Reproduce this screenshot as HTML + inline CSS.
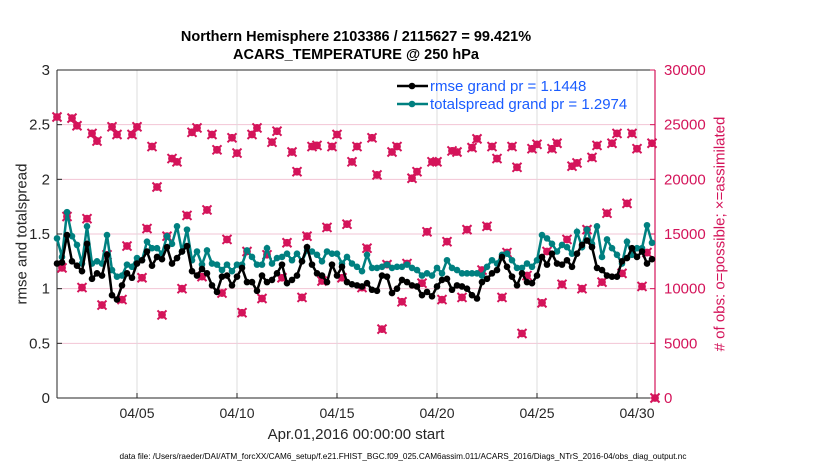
<!DOCTYPE html>
<html><head><meta charset="utf-8"><style>
body{margin:0;background:#fff;}
svg text{font-family:"Liberation Sans",sans-serif;}
</style></head><body>
<svg id="c" width="830" height="470" xmlns="http://www.w3.org/2000/svg"></svg>
<script>
const rmse=[1.23,1.24,1.49,1.25,1.21,1.16,1.41,1.09,1.14,1.12,1.31,0.94,0.90,1.03,1.14,1.10,1.23,1.26,1.34,1.21,1.29,1.27,1.38,1.23,1.28,1.34,1.39,1.16,1.12,1.18,1.14,1.03,0.97,1.11,1.12,1.03,1.11,1.19,1.06,1.06,0.98,1.12,1.06,1.08,1.14,1.22,1.05,1.08,1.12,1.25,1.38,1.22,1.14,1.12,1.06,1.22,1.12,1.20,1.06,1.04,
1.03,1.02,1.05,0.99,0.98,1.12,1.11,0.96,1.00,1.08,1.06,1.03,1.02,0.94,0.97,0.93,1.02,1.08,1.09,0.99,1.03,1.02,1.00,0.94,0.91,1.06,1.09,1.14,1.17,1.29,1.20,1.11,1.03,1.14,1.06,1.05,1.12,1.29,1.22,1.32,1.23,1.22,1.26,1.20,1.32,1.40,1.44,1.38,1.19,1.17,1.12,1.11,1.11,1.25,1.28,1.37,1.29,1.34,1.23,1.27];
const spread=[1.46,1.29,1.70,1.48,1.40,1.23,1.57,1.23,1.25,1.23,1.49,1.17,1.11,1.12,1.22,1.20,1.28,1.26,1.43,1.37,1.37,1.32,1.48,1.41,1.57,1.34,1.54,1.26,1.34,1.22,1.35,1.23,1.22,1.17,1.22,1.16,1.22,1.22,1.35,1.29,1.22,1.22,1.37,1.23,1.28,1.29,1.32,1.26,1.32,1.25,1.35,1.34,1.31,1.25,1.34,1.32,1.32,1.23,1.29,1.23,
1.20,1.16,1.31,1.19,1.19,1.20,1.22,1.19,1.20,1.20,1.22,1.19,1.17,1.12,1.14,1.12,1.19,1.14,1.26,1.19,1.17,1.14,1.14,1.14,1.14,1.12,1.20,1.26,1.23,1.31,1.32,1.26,1.19,1.19,1.23,1.20,1.26,1.49,1.46,1.41,1.34,1.40,1.38,1.32,1.52,1.38,1.54,1.41,1.57,1.29,1.45,1.37,1.31,1.23,1.43,1.31,1.37,1.37,1.58,1.42];
const obsHigh=[25700,25600,24900,24200,23500,24800,24100,24100,24800,23000,19300,21900,21600,24300,24700,24100,22700,23800,22400,24100,24700,23400,24400,22500,20700,23000,23100,23000,24100,21600,
23000,23800,20400,22500,23000,20100,20700,21600,21600,22600,22500,22900,23700,23000,21900,23000,21100,22800,23200,22800,23300,21200,21500,22000,23100,23300,24200,24200,22800,23300];
const obsLow=[11900,16600,10100,16400,8500,13100,9000,13900,11000,15500,7600,14800,10000,16700,11100,17200,9600,14500,7800,13400,9100,13100,11000,14200,9200,14800,10700,15600,11000,15900,
10100,13700,6300,12200,8800,12300,10500,15200,9000,14300,9200,15400,11700,15700,9200,13300,5900,11200,8700,13400,10400,14500,10000,15400,10600,16900,11400,17800,10200,13300];
const xTickDays=[5,10,15,20,25,30];
const xTickLabels=["04/05","04/10","04/15","04/20","04/25","04/30"];
const yLeftTicks=[0,0.5,1,1.5,2,2.5,3];
const yRightTicks=[0,5000,10000,15000,20000,25000,30000];

const L=57,R=655,T=70,B=398;
const xd=d=>L+(d-1)*20;
const xi=i=>xd(1+i/4);
const yl=v=>B-(v/3)*(B-T);
const yr=v=>B-(v/30000)*(B-T);
const svg=document.getElementById('c');
const NS="http://www.w3.org/2000/svg";
function mk(tag,attrs,parent){const e=document.createElementNS(NS,tag);for(const k in attrs)e.setAttribute(k,attrs[k]);(parent||svg).appendChild(e);return e;}
const MAG="#d4145a";

yRightTicks.forEach(v=>{const g=mk('line',{x1:L,x2:R,y1:yr(v),y2:yr(v),stroke:'#f2c4d4','stroke-width':1});

});
xTickDays.forEach((d,k)=>{const g=mk('line',{x1:xd(d),x2:xd(d),y1:T,y2:B,stroke:'#dcdcdc','stroke-width':1});


const t=mk('text',{x:xd(d),y:B+20,'text-anchor':'middle','font-size':14,fill:'#262626'});t.textContent=xTickLabels[k];


mk('line',{x1:xd(d),x2:xd(d),y1:B,y2:B-5,stroke:'#262626'});});

mk('line',{x1:L,x2:R,y1:T,y2:T,stroke:'#262626','stroke-width':1});
const ax=mk('line',{x1:L,x2:R,y1:B,y2:B,stroke:'#262626','stroke-width':1});


const la=mk('line',{x1:L,x2:L,y1:T,y2:B,stroke:'#262626','stroke-width':1});


const ra=mk('line',{x1:R,x2:R,y1:T,y2:B,stroke:MAG,'stroke-width':1.2});



yLeftTicks.forEach(v=>{mk('line',{x1:L,x2:L+5,y1:yl(v),y2:yl(v),stroke:'#262626'});
const t=mk('text',{x:L-7,y:yl(v)+5,'text-anchor':'end','font-size':15,fill:'#262626'});t.textContent=String(v);

});
yRightTicks.forEach(v=>{mk('line',{x1:R-5,x2:R,y1:yr(v),y2:yr(v),stroke:MAG});
const t=mk('text',{x:R+9,y:yr(v)+5,'text-anchor':'start','font-size':15,fill:MAG});t.textContent=String(v);

});

function obsMark(x,y){const g=mk('g',{});


mk('circle',{cx:x,cy:y,r:3.4,fill:MAG,stroke:MAG,'stroke-width':1},g);
mk('path',{d:`M${x-4.5} ${y-4.5}L${x+4.5} ${y+4.5}M${x-4.5} ${y+4.5}L${x+4.5} ${y-4.5}`,stroke:MAG,'stroke-width':2},g);}
let hi=0,lo=0;
for(let i=0;i<120;i++){const m=i%4;if(m===0||m===3){obsMark(xi(i),yr(obsHigh[hi++]));}else{obsMark(xi(i),yr(obsLow[lo++]));}}
obsMark(R,yr(0));

function series(vals,color,name){const p=vals.map((v,i)=>(i?'L':'M')+xi(i).toFixed(1)+' '+yl(v).toFixed(1)).join('');
const pl=mk('path',{d:p,fill:'none',stroke:color,'stroke-width':2.5});


vals.forEach((v,i)=>{const c=mk('circle',{cx:xi(i),cy:yl(v),r:3.3,fill:color});

});}
series(spread,'#008080','totalspread');
series(rmse,'#000000','rmse');

[["#000","rmse grand pr = 1.1448",91],["#008080","totalspread grand pr = 1.2974",109]].forEach(([c,txt,y])=>{
const g=mk('g',{});


mk('line',{x1:397,x2:428,y1:y-5,y2:y-5,stroke:c,'stroke-width':2.5},g);
mk('circle',{cx:412,cy:y-5,r:3.3,fill:c},g);
const t=mk('text',{x:430,y:y,'font-size':15,fill:'#1a5cff'},g);t.textContent=txt;});
</script>
<div style="position:absolute;left:0;top:0;width:830px;height:470px;pointer-events:none;font-family:'Liberation Sans',sans-serif;">
<div style="position:absolute;left:57px;width:598px;top:28px;text-align:center;font-weight:bold;font-size:14.5px;line-height:18px;color:#000;">Northern Hemisphere 2103386 / 2115627 = 99.421%<br>ACARS_TEMPERATURE @ 250 hPa</div>
<div style="position:absolute;left:57px;width:598px;top:426px;text-align:center;font-size:15px;color:#262626;">Apr.01,2016 00:00:00 start</div>
<div style="position:absolute;left:103px;width:600px;top:452px;text-align:center;font-size:8.2px;white-space:nowrap;color:#000;">data file: /Users/raeder/DAI/ATM_forcXX/CAM6_setup/f.e21.FHIST_BGC.f09_025.CAM6assim.011/ACARS_2016/Diags_NTrS_2016-04/obs_diag_output.nc</div>
<div style="position:absolute;left:22px;top:234px;width:0;height:0;"><div style="position:absolute;transform:translate(-50%,-50%) rotate(-90deg);white-space:nowrap;font-size:15px;color:#262626;">rmse and totalspread</div></div>
<div style="position:absolute;left:720px;top:234px;width:0;height:0;"><div style="position:absolute;transform:translate(-50%,-50%) rotate(-90deg);white-space:nowrap;font-size:15px;color:#d4145a;"># of obs: o=possible; ×=assimilated</div></div>
</div>
</body></html>
